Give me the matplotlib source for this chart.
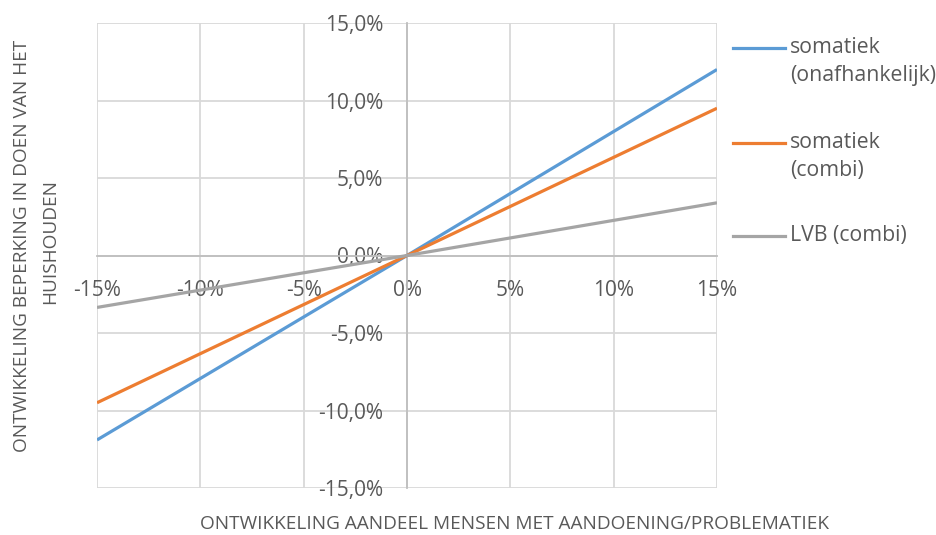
import matplotlib
matplotlib.use("Agg")
import matplotlib.pyplot as plt
from matplotlib.lines import Line2D
from matplotlib.ticker import FuncFormatter

plt.rcParams['font.family'] = ['Open Sans', 'DejaVu Sans']

# data (percentages)
x = [-15, 0, 15]
somatiek_onafh = [-11.9, 0, 12.0]
somatiek_combi = [-9.5, 0, 9.5]
lvb_combi = [-3.35, 0, 3.4]

labels = ['somatiek\n(onafhankelijk)', 'somatiek\n(combi)', 'LVB (combi)']
colors = ['#5B9BD5', '#ED7D31', '#A5A5A5']
ticks = [-15, -10, -5, 0, 5, 10, 15]

txt = '#595959'
grid = '#D9D9D9'

fig = plt.figure(figsize=(9.36, 5.35), dpi=100)
ax = fig.add_axes([97/936, 47/535, 620/936, 465/535])

for ys, c in zip([somatiek_onafh, somatiek_combi, lvb_combi], colors):
    ax.plot(x, ys, color=c, lw=2.3, solid_capstyle='butt', zorder=3)

ax.set_xlim(-15, 15)
ax.set_ylim(-15, 15)
ax.set_xticks(ticks)
ax.set_yticks(ticks)
ax.xaxis.set_major_formatter(FuncFormatter(lambda v, p: '%d%%' % v))
ax.yaxis.set_major_formatter(FuncFormatter(lambda v, p: ('%.1f%%' % v).replace('.', ',')))

ax.grid(True, color=grid, lw=1.3)
for gl in ax.get_xgridlines() + ax.get_ygridlines():
    gl.set_clip_on(False)

ax.spines['left'].set_position('zero')
ax.spines['bottom'].set_position('zero')
ax.spines['top'].set_visible(False)
ax.spines['right'].set_visible(False)
for s in ['left', 'bottom']:
    ax.spines[s].set_color('#BFBFBF')
    ax.spines[s].set_linewidth(1.3)
    ax.spines[s].set_zorder(2)

ax.tick_params(axis='x', length=0, pad=18, labelsize=15, labelcolor=txt)
ax.tick_params(axis='y', length=0, pad=17, labelsize=15, labelcolor=txt)

# axis titles
fig.text(515/936, 1 - 524/535, 'ONTWIKKELING AANDEEL MENSEN MET AANDOENING/PROBLEMATIEK',
         ha='center', va='center', fontsize=13.7, color=txt)
fig.text(22/936, 1 - 246/535, 'ONTWIKKELING BEPERKING IN DOEN VAN HET',
         ha='center', va='center', rotation=90, fontsize=13.7, color=txt)
fig.text(50/936, 1 - 242/535, 'HUISHOUDEN',
         ha='center', va='center', rotation=90, fontsize=13.7, color=txt)

# legend
leg_y = [48, 143, 236]
for lab, c, yy in zip(labels, colors, leg_y):
    fy = 1 - yy/535
    fig.add_artist(Line2D([733/936, 785/936], [fy, fy], color=c, lw=2.3,
                          transform=fig.transFigure))
    fig.text(790/936, fy + 11/535, lab, ha='left', va='top', fontsize=15.3,
             color=txt, linespacing=1.45)

fig.savefig('out.png', dpi=100)
